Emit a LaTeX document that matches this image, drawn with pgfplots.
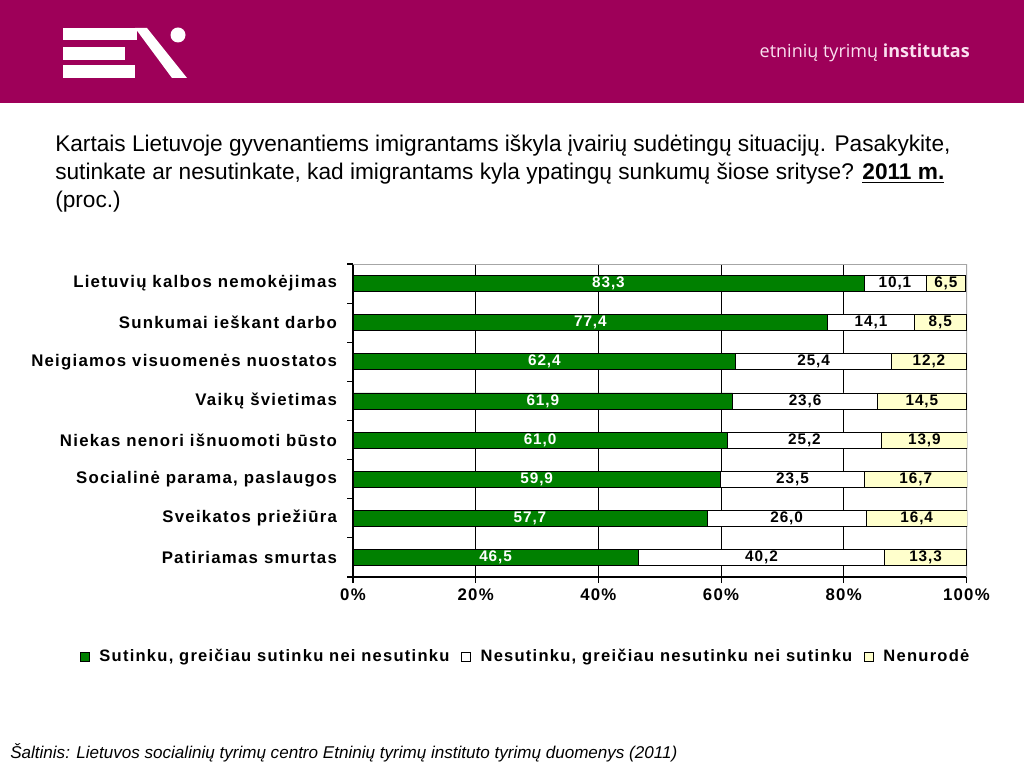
\documentclass[border=0pt]{standalone}
\usepackage{fontspec}
\setmainfont{Liberation Sans}
\newfontfamily\chartfont[LetterSpace=7.5]{Liberation Sans}
\newfontfamily\valfont[LetterSpace=6]{Liberation Sans}
\newfontfamily\osans{Open Sans}
\usepackage{pgfplots}
\pgfplotsset{compat=1.18}
\usepackage{pgfplotstable}
\definecolor{hdr}{RGB}{158,0,89}
\definecolor{bgreen}{RGB}{0,128,0}
\definecolor{byellow}{RGB}{255,255,204}
\definecolor{hdrtext}{RGB}{250,225,240}

\pgfplotstableread{
y a b c
7 83.3 10.1 6.5
6 77.4 14.1 8.5
5 62.4 25.4 12.2
4 61.9 23.6 14.5
3 61.0 25.2 13.9
2 59.9 23.5 16.7
1 57.7 26.0 16.4
0 46.5 40.2 13.3
}\datatable

\newcommand{\cf}{\chartfont\bfseries\fontsize{12.6}{14}\selectfont}
\newcommand{\lf}{\chartfont\bfseries\fontsize{12.4}{14}\selectfont}
\newcommand{\vf}{\valfont\bfseries\fontsize{11.5}{13}\selectfont}
\newcommand{\pn}[1]{\pgfmathprintnumber[fixed,fixed zerofill,precision=1,use comma,assume math mode=true]{#1}}

\begin{document}
\begin{tikzpicture}[x=0.75pt,y=0.75pt]
% page
\fill[white] (0,0) rectangle (1024,768);
% header
\fill[hdr] (0,665) rectangle (1024,768);
\fill[white] (63,740) rectangle (137,728);
\fill[white] (63,721) rectangle (125,708);
\fill[white] (63,703) rectangle (135,690);
\fill[white] (135,740) -- (147,740) -- (187,690) -- (172,690) -- cycle;
\fill[white] (178,733) circle (7.5);
\node[anchor=base east, text=hdrtext, inner sep=0pt, font=\osans\fontsize{13.5}{15}\selectfont] at (970,710) {etninių tyrimų \textbf{institutas}};
% title
\begin{scope}[every node/.style={anchor=base west, inner sep=0pt, font=\fontsize{17}{19}\selectfont}]
\node at (55,616) {Kartais Lietuvoje gyvenantiems imigrantams iškyla įvairių sudėtingų situacijų. Pasakykite,};
\node at (55,588) {sutinkate ar nesutinkate, kad imigrantams kyla ypatingų sunkumų šiose srityse? \underline{\textbf{2011 m.}}};
\node at (55,560) {(proc.)};
\end{scope}
% source
\node[anchor=base west, inner sep=0pt, font=\itshape\fontsize{12.8}{14}\selectfont] at (10,10) {Šaltinis: Lietuvos socialinių tyrimų centro Etninių tyrimų instituto tyrimų duomenys (2011)};

\begin{axis}[
  at={(264.75pt,143.25pt)}, anchor=south west,
  scale only axis, width=460.5pt, height=234.75pt,
  xbar stacked, bar width=12pt,
  xmin=0, xmax=100.1, ymin=-0.5, ymax=7.5,
  axis x line*=bottom, axis y line*=left,
  axis line style={black, line width=0.8pt},
  xtick={0,20,...,100}, xticklabels={0\%,20\%,40\%,60\%,80\%,100\%},
  xmajorgrids, grid style={black, line width=0.6pt},
  tick align=outside, major tick length=4.5pt,
  tick style={black, line width=0.8pt},
  xticklabel style={font=\cf, yshift=-1pt},
  ytick={-0.5,0.5,...,7.5}, yticklabels={},
  extra y ticks={0,1,...,7},
  extra y tick labels={Patiriamas smurtas, Sveikatos priežiūra, {Socialinė parama, paslaugos}, Niekas nenori išnuomoti būsto, Vaikų švietimas, Neigiamos visuomenės nuostatos, Sunkumai ieškant darbo, Lietuvių kalbos nemokėjimas},
  extra y tick style={tick style={draw=none}, grid=none, yticklabel style={font=\cf, xshift=-4pt}},
  legend columns=3,
  legend style={at={(-0.4446,-0.2556)}, anchor=west, draw=none, inner sep=0pt, font=\lf,
    nodes={text height=9pt, text depth=3pt},
    /tikz/every odd column/.append style={column sep=5pt},
    /tikz/every even column/.append style={column sep=7pt}},
  legend image code/.code={\draw[#1, line width=0.6pt] (0pt,-3.4pt) rectangle (6.8pt,3.4pt);},
]
\addplot[fill=bgreen, draw=black, line width=0.6pt,
  visualization depends on={\thisrow{a} \as \rawv},
  nodes near coords={\pn{\rawv}},
  every node near coord/.style={font=\vf, anchor=center, text=white}]
  table[x=a, y=y] {\datatable};
\addplot[fill=white, draw=black, line width=0.6pt,
  visualization depends on={\thisrow{b} \as \rawv},
  nodes near coords={\pn{\rawv}},
  every node near coord/.style={font=\vf, anchor=center, text=black}]
  table[x=b, y=y] {\datatable};
\addplot[fill=byellow, draw=black, line width=0.6pt,
  visualization depends on={\thisrow{c} \as \rawv},
  nodes near coords={\pn{\rawv}},
  every node near coord/.style={font=\vf, anchor=center, text=black}]
  table[x=c, y=y] {\datatable};
\legend{{Sutinku, greičiau sutinku nei nesutinku}, {Nesutinku, greičiau nesutinku nei sutinku}, Nenurodė}
\draw[gray!70, line width=0.8pt] (rel axis cs:0,1) -- (rel axis cs:1,1) -- (rel axis cs:1,0);
\end{axis}
\end{tikzpicture}
\end{document}
